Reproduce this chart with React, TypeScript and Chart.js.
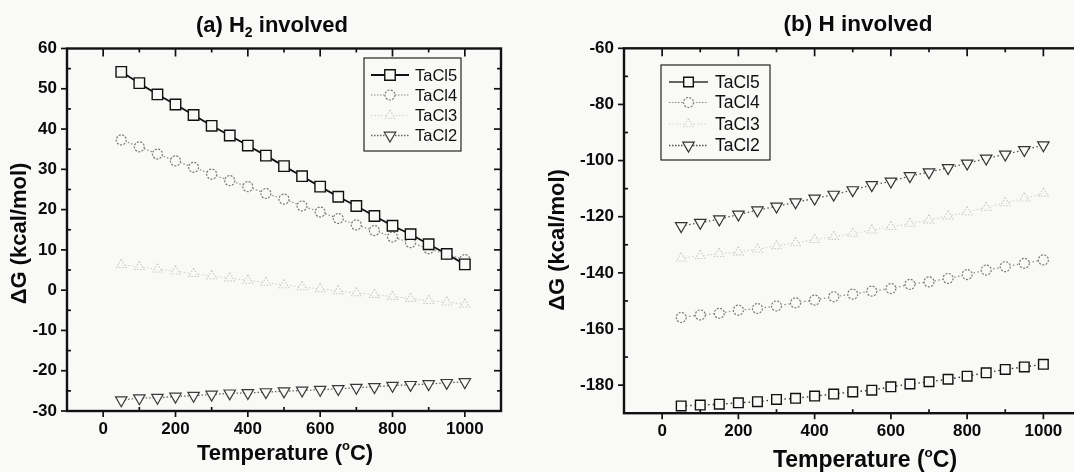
import React, { useEffect, useRef } from "react";
import { Chart, registerables } from "chart.js";

Chart.register(...registerables);

const FONT = '"Liberation Sans", Arial, Helvetica, sans-serif';
const PAPER = "#f9f9f7";

// Temperature grid (°C) shared by every series
const temperatures = [50, 100, 150, 200, 250, 300, 350, 400, 450, 500, 550, 600, 650, 700, 750, 800, 850, 900, 950, 1000];

// (a) H2 involved — ΔG in kcal/mol
const h2TaCl5 = [54.2, 51.4, 48.6, 46.1, 43.5, 40.8, 38.4, 35.9, 33.4, 30.8, 28.3, 25.7, 23.2, 20.9, 18.4, 16.0, 13.9, 11.4, 9.0, 6.4];
const h2TaCl4 = [37.3, 35.6, 33.8, 32.1, 30.5, 28.8, 27.2, 25.7, 24.0, 22.6, 20.9, 19.4, 17.8, 16.2, 14.8, 13.2, 11.8, 10.3, 8.9, 7.6];
const h2TaCl3 = [6.3, 5.8, 5.2, 4.7, 4.1, 3.5, 3.0, 2.4, 1.9, 1.3, 0.8, 0.3, -0.2, -0.7, -1.1, -1.6, -2.1, -2.6, -3.0, -3.5];
const h2TaCl2 = [-27.3, -26.8, -26.7, -26.4, -26.2, -25.9, -25.6, -25.5, -25.3, -25.1, -24.9, -24.7, -24.5, -24.2, -24.0, -23.7, -23.5, -23.3, -23.0, -22.8];

// (b) H involved — ΔG in kcal/mol
const hTaCl5 = [-187.4, -187.1, -186.8, -186.3, -185.9, -185.1, -184.7, -183.9, -183.2, -182.4, -181.8, -180.6, -179.6, -178.8, -177.9, -176.8, -175.6, -174.4, -173.5, -172.6];
const hTaCl4 = [-155.9, -155.0, -154.4, -153.3, -152.7, -151.8, -150.7, -149.7, -148.5, -147.6, -146.5, -145.6, -144.1, -143.2, -142.0, -140.6, -139.0, -137.8, -136.6, -135.4];
const hTaCl3 = [-134.8, -133.9, -133.2, -132.6, -131.6, -130.4, -129.3, -128.2, -127.1, -126.0, -124.8, -123.6, -122.4, -121.2, -119.8, -118.3, -116.7, -115.1, -113.4, -111.7];
const hTaCl2 = [-123.3, -122.1, -120.9, -119.2, -117.7, -116.3, -114.8, -113.5, -112.1, -110.5, -108.7, -107.4, -105.5, -104.1, -102.6, -101.0, -99.2, -97.8, -96.2, -94.5];

const seriesNames = ["TaCl5", "TaCl4", "TaCl3", "TaCl2"];

// Tick labels
const xTickLabels = [0, 200, 400, 600, 800, 1000];
const h2YTickLabels = [-30, -20, -10, 0, 10, 20, 30, 40, 50, 60];
const hYTickLabels = [-180, -160, -140, -120, -100, -80, -60];

type Piece = { text: string; size: number; dy?: number };

type SeriesStyle = {
  marker: string;
  stroke: string;
  line: string;
  lineWidth: number;
  dash: number[];
  legendDash: number[];
  radius: number;
  rotation: number;
  markerWidth: number;
  markerDash: number[] | null;
};

const stylesA: SeriesStyle[] = [
  { marker: "rect", stroke: "#111", line: "#111", lineWidth: 1.8, dash: [], legendDash: [], radius: 7.4, rotation: 0, markerWidth: 1.4, markerDash: null },
  { marker: "circle", stroke: "#777", line: "#8a8a8a", lineWidth: 1.2, dash: [1.5, 2], legendDash: [1.5, 1.5], radius: 5, rotation: 0, markerWidth: 1.2, markerDash: [2, 1.4] },
  { marker: "triangle", stroke: "#c9c9c9", line: "#cfcfcf", lineWidth: 1.1, dash: [1.5, 2.2], legendDash: [1.5, 2], radius: 5.5, rotation: 0, markerWidth: 1.1, markerDash: [1.5, 1.5] },
  { marker: "triangle", stroke: "#3a3a3a", line: "#666", lineWidth: 1.3, dash: [1.5, 2], legendDash: [1.5, 1.5], radius: 6.6, rotation: 180, markerWidth: 1.2, markerDash: null },
];

const stylesB: SeriesStyle[] = [
  { marker: "rect", stroke: "#111", line: "#333", lineWidth: 1.4, dash: [1.5, 3], legendDash: [], radius: 6.8, rotation: 0, markerWidth: 1.4, markerDash: null },
  { marker: "circle", stroke: "#7a7a7a", line: "#8a8a8a", lineWidth: 1.2, dash: [1.5, 2.5], legendDash: [1.5, 1.5], radius: 5, rotation: 0, markerWidth: 1.2, markerDash: [2, 1.4] },
  { marker: "triangle", stroke: "#cbcbcb", line: "#d0d0d0", lineWidth: 1.1, dash: [1.5, 2.2], legendDash: [1.5, 2], radius: 5.5, rotation: 0, markerWidth: 1.1, markerDash: [1.5, 1.5] },
  { marker: "triangle", stroke: "#333", line: "#555", lineWidth: 1.3, dash: [1.5, 2.5], legendDash: [1.5, 1.5], radius: 6.6, rotation: 180, markerWidth: 1.2, markerDash: null },
];

function drawRich(ctx: CanvasRenderingContext2D, pieces: Piece[], cx: number, baseline: number) {
  const widths = pieces.map((p) => {
    ctx.font = `bold ${p.size}px ${FONT}`;
    return ctx.measureText(p.text).width;
  });
  const total = widths.reduce((a, b) => a + b, 0);
  let x = cx - total / 2;
  ctx.textAlign = "left";
  ctx.textBaseline = "alphabetic";
  pieces.forEach((p, i) => {
    ctx.font = `bold ${p.size}px ${FONT}`;
    ctx.fillText(p.text, x, baseline + (p.dy || 0));
    x += widths[i];
  });
}

function drawMarker(ctx: CanvasRenderingContext2D, style: SeriesStyle, x: number, y: number) {
  const r = style.radius;
  ctx.beginPath();
  if (style.marker === "rect") {
    const s = r * Math.SQRT1_2;
    ctx.rect(x - s, y - s, 2 * s, 2 * s);
  } else if (style.marker === "circle") {
    ctx.arc(x, y, r, 0, Math.PI * 2);
  } else {
    let a = (style.rotation * Math.PI) / 180;
    for (let k = 0; k < 3; k++) {
      const px = x + Math.sin(a) * r;
      const py = y - Math.cos(a) * r;
      if (k === 0) ctx.moveTo(px, py);
      else ctx.lineTo(px, py);
      a += (2 * Math.PI) / 3;
    }
    ctx.closePath();
  }
  ctx.fillStyle = PAPER;
  ctx.fill();
  ctx.strokeStyle = style.stroke;
  ctx.lineWidth = style.markerWidth;
  ctx.setLineDash(style.markerDash || []);
  ctx.stroke();
  ctx.setLineDash([]);
}

// Frame, tick marks, titles and the boxed legend
const panelDecor = {
  id: "panelDecor",
  beforeDatasetDraw(chart: any, args: any) {
    const ds = chart.data.datasets[args.index];
    chart.ctx.save();
    if (ds.markerDash) chart.ctx.setLineDash(ds.markerDash);
  },
  afterDatasetDraw(chart: any) {
    chart.ctx.restore();
  },
  afterDraw(chart: any, _args: any, opts: any) {
    const ctx: CanvasRenderingContext2D = chart.ctx;
    const { left, right, top, bottom } = chart.chartArea;
    const xs = chart.scales.x;
    const ys = chart.scales.y;
    ctx.save();
    ctx.strokeStyle = "#111";
    ctx.lineCap = "butt";
    const seg = (x1: number, y1: number, x2: number, y2: number) => {
      ctx.beginPath();
      ctx.moveTo(x1, y1);
      ctx.lineTo(x2, y2);
      ctx.stroke();
    };
    ctx.lineWidth = 1.7;
    xs.ticks.forEach((t: any) => {
      const v = t.value;
      if (v <= xs.min || v >= xs.max) return;
      const px = xs.getPixelForValue(v);
      const major = v % opts.xMajor === 0;
      seg(px, bottom, px, major ? bottom + 6 : bottom - 4);
      seg(px, top, px, top + (major ? 8 : 4));
    });
    ys.ticks.forEach((t: any) => {
      const v = t.value;
      const py = ys.getPixelForValue(v);
      const major = Math.abs(v % opts.yMajor) < 1e-9;
      if (major) seg(left, py, left - 6, py);
      if (v <= ys.min || v >= ys.max) return;
      if (!major) seg(left, py, left + 4, py);
      seg(right, py, right - (major ? 7 : 4), py);
    });
    ctx.lineWidth = 2.4;
    ctx.strokeRect(left, top, right - left, bottom - top);

    // titles
    ctx.fillStyle = "#0a0a0a";
    drawRich(ctx, opts.title, opts.titleX, opts.titleY);
    drawRich(ctx, opts.xTitle, opts.xTitleX, opts.xTitleY);
    ctx.save();
    ctx.translate(opts.yTitleX, opts.yTitleY);
    ctx.rotate(-Math.PI / 2);
    drawRich(ctx, opts.yTitle, 0, 0);
    ctx.restore();

    // legend
    const lg = opts.legend;
    ctx.lineWidth = 1.1;
    ctx.strokeStyle = "#111";
    ctx.strokeRect(lg.x, lg.y, lg.w, lg.h);
    chart.data.datasets.forEach((ds: any, i: number) => {
      const st: SeriesStyle = ds.seriesStyle;
      const ry = lg.rows[i];
      ctx.strokeStyle = st.line;
      ctx.lineWidth = st.lineWidth;
      ctx.setLineDash(st.legendDash);
      seg(lg.sampleL, ry, lg.sampleR, ry);
      ctx.setLineDash([]);
      drawMarker(ctx, st, (lg.sampleL + lg.sampleR) / 2, ry);
      ctx.fillStyle = "#111";
      ctx.font = `${lg.fontSize}px ${FONT}`;
      ctx.textAlign = "left";
      ctx.textBaseline = "middle";
      ctx.fillText(ds.label, lg.textX, ry + 1);
    });
    ctx.restore();
  },
};

type PanelSpec = {
  canvasLeft: number;
  canvasWidth: number;
  area: { left: number; right: number; top: number; bottom: number };
  yMin: number;
  yMax: number;
  yStep: number;
  yMajor: number;
  yLabels: number[];
  series: number[][];
  styles: SeriesStyle[];
  decor: any;
};

const HEIGHT = 472;

const panelA: PanelSpec = {
  canvasLeft: 0,
  canvasWidth: 537,
  area: { left: 67, right: 501, top: 48.5, bottom: 411 },
  yMin: -30,
  yMax: 60,
  yStep: 5,
  yMajor: 10,
  yLabels: h2YTickLabels,
  series: [h2TaCl5, h2TaCl4, h2TaCl3, h2TaCl2],
  styles: stylesA,
  decor: {
    xMajor: 200,
    yMajor: 10,
    title: [
      { text: "(a) H", size: 22 },
      { text: "2", size: 14, dy: 5 },
      { text: " involved", size: 22 },
    ],
    titleX: 272,
    titleY: 32,
    xTitle: [
      { text: "Temperature (", size: 22 },
      { text: "o", size: 13, dy: -10 },
      { text: "C)", size: 22 },
    ],
    xTitleX: 285,
    xTitleY: 460,
    yTitle: [{ text: "\u0394G (kcal/mol)", size: 22 }],
    yTitleX: 26,
    yTitleY: 233.5,
    legend: { x: 364, y: 58, w: 97, h: 93, rows: [75, 95, 115.5, 135.5], sampleL: 371, sampleR: 409, textX: 415, fontSize: 16.5 },
  },
};

const panelB: PanelSpec = {
  canvasLeft: 537,
  canvasWidth: 560,
  area: { left: 87, right: 544.5, top: 48.3, bottom: 413.2 },
  yMin: -190,
  yMax: -60,
  yStep: 10,
  yMajor: 20,
  yLabels: hYTickLabels,
  series: [hTaCl5, hTaCl4, hTaCl3, hTaCl2],
  styles: stylesB,
  decor: {
    xMajor: 200,
    yMajor: 20,
    title: [{ text: "(b) H involved", size: 22.5 }],
    titleX: 321,
    titleY: 31,
    xTitle: [
      { text: "Temperature (", size: 23 },
      { text: "o", size: 13.5, dy: -10.5 },
      { text: "C)", size: 23 },
    ],
    xTitleX: 328,
    xTitleY: 467,
    yTitle: [{ text: "\u0394G (kcal/mol)", size: 22 }],
    yTitleX: 27,
    yTitleY: 240,
    legend: { x: 124, y: 65, w: 109, h: 95, rows: [82, 102.5, 124, 145.5], sampleL: 132, sampleR: 171, textX: 178, fontSize: 17.5 },
  },
};

function buildConfig(p: PanelSpec): any {
  const tickFont = { family: FONT, size: 17, weight: "bold" as const };
  return {
    type: "line",
    data: {
      datasets: p.series.map((vals, i) => {
        const st = p.styles[i];
        return {
          label: seriesNames[i],
          data: temperatures.map((t, k) => ({ x: t, y: vals[k] })),
          borderColor: st.line,
          borderWidth: st.lineWidth,
          borderDash: st.dash,
          tension: 0,
          fill: false,
          pointStyle: st.marker,
          pointRadius: st.radius,
          pointRotation: st.rotation,
          pointBorderColor: st.stroke,
          pointBackgroundColor: PAPER,
          pointBorderWidth: st.markerWidth,
          markerDash: st.markerDash,
          seriesStyle: st,
        };
      }),
    },
    options: {
      responsive: false,
      animation: false,
      events: [],
      layout: {
        padding: { left: 0, top: p.area.top, right: p.canvasWidth - p.area.right, bottom: 0 },
      },
      plugins: {
        legend: { display: false },
        tooltip: { enabled: false },
        panelDecor: p.decor,
      },
      scales: {
        x: {
          type: "linear",
          min: -100,
          max: 1100,
          grid: { display: false, drawTicks: false },
          border: { display: false },
          afterFit: (scale: any) => {
            scale.height = HEIGHT - p.area.bottom;
          },
          ticks: {
            stepSize: 100,
            autoSkip: false,
            maxRotation: 0,
            padding: 8,
            color: "#0a0a0a",
            font: tickFont,
            callback: (v: any) => (xTickLabels.includes(Number(v)) ? String(v) : ""),
          },
        },
        y: {
          type: "linear",
          min: p.yMin,
          max: p.yMax,
          grid: { display: false, drawTicks: false },
          border: { display: false },
          afterFit: (scale: any) => {
            scale.width = p.area.left;
          },
          ticks: {
            stepSize: p.yStep,
            autoSkip: false,
            padding: 10,
            color: "#0a0a0a",
            font: tickFont,
            callback: (v: any) => (p.yLabels.includes(Number(v)) ? String(v) : ""),
          },
        },
      },
    },
    plugins: [panelDecor],
  };
}

function Panel({ spec }: { spec: PanelSpec }) {
  const ref = useRef<HTMLCanvasElement | null>(null);
  useEffect(() => {
    if (!ref.current) return;
    const chart = new Chart(ref.current, buildConfig(spec));
    return () => chart.destroy();
  }, [spec]);
  return (
    <canvas
      ref={ref}
      width={spec.canvasWidth}
      height={HEIGHT}
      style={{
        position: "absolute",
        left: spec.canvasLeft,
        top: 0,
        width: spec.canvasWidth,
        height: HEIGHT,
      }}
    />
  );
}

export default function App() {
  return (
    <div
      style={{
        position: "fixed",
        left: 0,
        top: 0,
        width: 1074,
        height: HEIGHT,
        overflow: "hidden",
        background: PAPER,
      }}
    >
      <Panel spec={panelA} />
      <Panel spec={panelB} />
    </div>
  );
}
